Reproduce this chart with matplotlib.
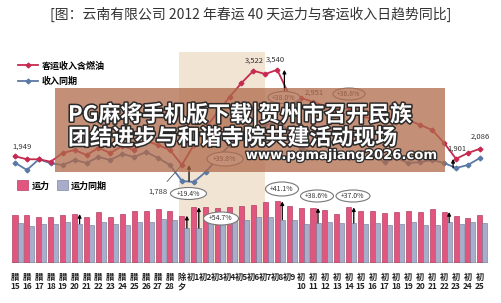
import matplotlib
matplotlib.use('Agg')
import matplotlib.pyplot as plt
from matplotlib.patches import Rectangle, Ellipse
import matplotlib.transforms as mtransforms
import matplotlib.patheffects as pe

plt.rcParams['font.family'] = ['Noto Sans CJK SC', 'DejaVu Sans']

# ---------------- data ----------------
categories = (['腊\n%d' % d for d in range(15, 29)] + ['除\n夕'] +
              ['初%d' % d for d in range(1, 10)] +
              ['初\n%d' % d for d in range(10, 26)])

revenue = [1949, 1893, 1893, 1849, 2009, 2064, 1972, 2101, 2009, 2138,
           2064, 2230, 2156, 2064, 1788, 2156, 2469, 2763, 3039, 3297,
           3522, 3462, 3540, 3076, 3021, 2951, 2874, 2800, 2837, 2690,
           2634, 2653, 2579, 2616, 2524, 2432, 2193, 1901, 2009, 2086]

revenue_ly = [1830, 1696, 1893, 1819, 1788, 1880, 1825, 1935, 1880, 1990,
              1935, 2027, 1917, 1788, 1494, 1475, 1659, 1917, 2156, 2340,
              2469, 2524, 2579, 2432, 2101, 2027, 1972, 2009, 1917, 2027,
              1954, 1843, 1917, 1825, 1843, 1880, 1825, 1733, 1788, 1917]

capacity = [145, 143, 138, 137, 143, 147, 138, 153, 138, 146,
            156, 156, 161, 156, 142, 167, 169, 165, 168, 170,
            174, 183, 185, 170, 164, 165, 160, 148, 167, 157,
            157, 150, 153, 157, 153, 162, 153, 140, 135, 143]

capacity_ly = [120, 112, 118, 118, 122, 118, 113, 122, 118, 115,
               122, 122, 132, 128, 105, 105, 120, 122, 125, 128,
               137, 137, 130, 128, 118, 120, 122, 120, 120, 118,
               120, 115, 118, 122, 113, 113, 122, 118, 122, 120]

labelled_points = [0, 14, 20, 22, 25, 37, 39]
label_offsets = {0: (5, 7), 14: (-17, -19), 20: (1, 7), 22: (-1, 7),
                 25: (1, 6.5), 37: (1, 7), 39: (0, 9)}

line_arrows = [(14, 0.6), (22, 0.6), (37, -0.25)]
bar_arrows = [5, 14, 15, 22, 25, 28, 36]

pct_labels = ['+19.4%', '+54.7%', '+39.8%', '+38.0%', '+36.8%',
              '+41.1%', '+38.6%', '+37.0%']
pct_pos = [(188.5, 193.5), (221, 218.5), (225, 159), (284, 97.5), (349, 94),
           (282, 189), (317, 196), (353, 196)]
pct_size = [(36, 12), (35, 13), (36, 14), (32, 12), (32, 12),
            (33, 14), (33, 12), (34, 12)]

title = '[图：云南有限公司 2012 年春运 40 天运力与客运收入日趋势同比]'
wm_line1 = 'PG麻将手机版下载|贺州市召开民族'
wm_line2 = '团结进步与和谐寺院共建活动现场'
wm_line3 = 'www.pgmajiang2026.com'

# ---------------- layout ----------------
W, H = 501, 303
fig = plt.figure(figsize=(W / 100, H / 100), dpi=100)
fig.patch.set_facecolor('white')

step = 11.92
xlim = (-15 / step, (W - 15) / step)
xs = list(range(len(categories)))

ax_bg = fig.add_axes([0, 0, 1, 1], zorder=0)
ax_bg.set_axis_off()
ax_bg.set_xlim(0, W); ax_bg.set_ylim(H, 0)

ax_line = fig.add_axes([0, 1 - 200 / H, 1, 160 / H], zorder=1)
ax_line.set_xlim(*xlim)
ax_line.set_ylim(1144, 1144 + 160 * 18.4)
ax_line.set_axis_off()

ax_bar = fig.add_axes([0, 1 - 263 / H, 1, 68 / H], zorder=1)
ax_bar.set_xlim(*xlim)
ax_bar.set_ylim(0, 204)
ax_bar.patch.set_visible(False)
for s in ax_bar.spines.values():
    s.set_visible(False)
ax_bar.set_yticks([])

ax_deco = fig.add_axes([0, 0, 1, 1], zorder=3)
ax_deco.set_axis_off()
ax_deco.set_xlim(0, W); ax_deco.set_ylim(H, 0)

# shaded period band (Spring festival days)
trans = mtransforms.blended_transform_factory(ax_line.transData, fig.transFigure)
band = Rectangle((13.8, 1 - 263 / H), 20.95 - 13.8, (263 - 52) / H,
                 transform=trans, facecolor='#F1E4D3', edgecolor='none')
ax_bg.add_patch(band)

# ---------------- lines ----------------
red = '#C62A50'
blue = '#5A79A6'
ax_line.plot(xs, revenue, color=red, lw=1.3, marker='D', ms=2.4,
             label='客运收入含燃油', zorder=3)
ax_line.plot(xs, revenue_ly, color=blue, lw=1.3, marker='D', ms=2.4,
             label='收入同期', zorder=2)

for i in labelled_points:
    dx, dy = label_offsets[i]
    ax_line.annotate(f'{revenue[i]:,}', (i, revenue[i]), xytext=(dx, dy),
                     textcoords='offset points', ha='center', va='center',
                     fontsize=5.5, color='#333333',
                     arrowprops=(dict(arrowstyle='-', color='#555555', lw=0.6,
                                      shrinkA=3, shrinkB=1) if i == 14 else None))

for i, off in line_arrows:
    ax_line.annotate('', xy=(i + off, revenue[i]), xytext=(i + off, revenue_ly[i]),
                     arrowprops=dict(arrowstyle='-|>', color='black', lw=0.9,
                                     mutation_scale=5, shrinkA=0, shrinkB=0))

leg1 = ax_line.legend(loc='upper left', bbox_to_anchor=(0.028, 0.89),
                      frameon=False, fontsize=6.5, handlelength=2.3,
                      labelspacing=0.75, handletextpad=0.4, borderaxespad=0)
for t in leg1.get_texts():
    t.set_fontweight('bold')

# ---------------- bars ----------------
bw = 0.42
b1 = ax_bar.bar(xs, capacity, width=bw, color='#E2557F', edgecolor='#A3264C',
                linewidth=0.4, label='运力', zorder=2)
b2 = ax_bar.bar([x + bw for x in xs], capacity_ly, width=bw, color='#A8ADCB',
                edgecolor='#70748F', linewidth=0.4, label='运力同期', zorder=2)
ax_bar.hlines(0, -0.3, len(xs) - 1 + bw + 0.3, color='#444444', lw=1.0, zorder=3)

for i in bar_arrows:
    ax_bar.annotate('', xy=(i + bw, capacity[i]), xytext=(i + bw, capacity_ly[i]),
                    arrowprops=dict(arrowstyle='-|>', color='black', lw=0.9,
                                    mutation_scale=5, shrinkA=0, shrinkB=0),
                    zorder=4)

ax_bar.set_xticks(xs)
ax_bar.set_xticklabels(categories, fontsize=6, fontweight='bold',
                       color='#222222', linespacing=1.0, va='top')
ax_bar.tick_params(axis='x', length=0, pad=7.5)

leg2 = ax_bar.legend(loc='upper left', bbox_to_anchor=(0.027, 1.27), ncol=2,
                     frameon=False, fontsize=6.5, handlelength=1.25,
                     handleheight=1.35, handletextpad=0.35, columnspacing=0.8,
                     borderaxespad=0)
for t in leg2.get_texts():
    t.set_fontweight('bold')

# ---------------- percentage ovals ----------------
for txt, (cx, cy), (ew, eh) in zip(pct_labels, pct_pos, pct_size):
    ax_deco.add_patch(Ellipse((cx, cy), ew, eh, facecolor='white',
                              edgecolor='#777777', lw=0.8, zorder=2))
    ax_deco.text(cx, cy, txt, ha='center', va='center', fontsize=5,
                 color='#333333', zorder=3)

# ---------------- title ----------------
fig.text(0.5, 1 - 14 / H, title, ha='center', va='center', fontsize=10,
         color='#333333')

# ---------------- watermark overlay ----------------
ax_deco.add_patch(Rectangle((55, 88), 390, 84, facecolor='#B06A4A',
                            edgecolor='none', alpha=0.75, zorder=5))
stroke = [pe.withStroke(linewidth=2.2, foreground='#2a2a2a')]
ax_deco.text(68, 125.5, wm_line1 + '\n' + wm_line2, ha='left', va='center',
             fontsize=15.8, fontweight='bold', color='white', linespacing=0.95,
             path_effects=stroke, zorder=6)
ax_deco.text(342, 155.5, wm_line3, ha='center', va='center', fontsize=9.5,
             fontweight='bold', family='DejaVu Sans', color='white',
             path_effects=[pe.withStroke(linewidth=1.8, foreground='#2a2a2a')],
             zorder=6)

fig.savefig('out.png', dpi=100, facecolor='white')
